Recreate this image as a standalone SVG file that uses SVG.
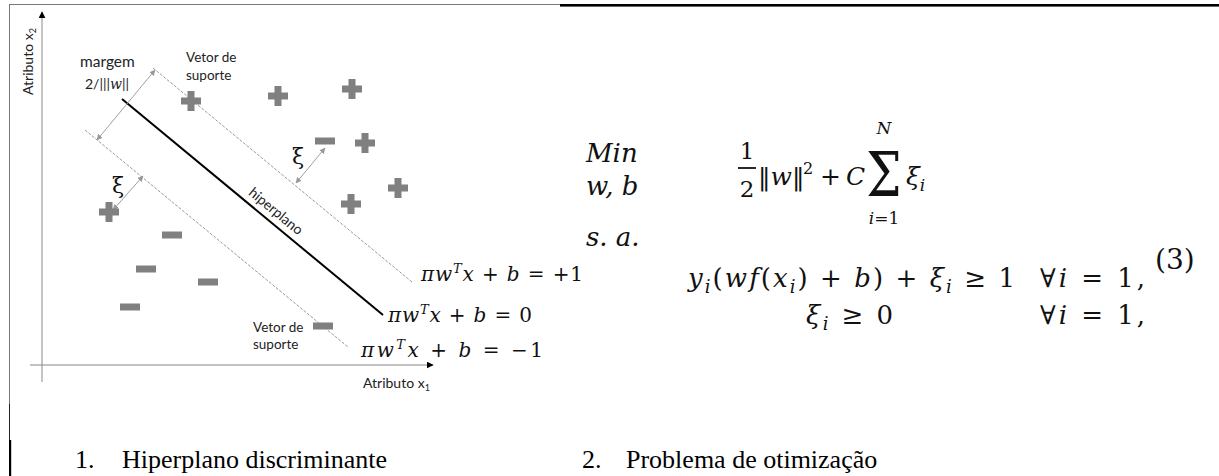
<svg xmlns="http://www.w3.org/2000/svg" xmlns:xlink="http://www.w3.org/1999/xlink" width="1219" height="476" viewBox="0 0 1219 476">
<style>
.lbl{font-family:Lato,"Open Sans",sans-serif;fill:#222}
.m{font-family:"DejaVu Serif",serif;font-style:italic;fill:#111}
.mu{font-family:"DejaVu Serif",serif;fill:#111}
.cap{font-family:"Liberation Serif","Times New Roman",serif;font-size:26px;fill:#000}
.pt{fill:#808080}
.mar{stroke:#9a9a9a;stroke-width:1;stroke-dasharray:3 1.5;fill:none}
.dbl{stroke:#a0a0a0;stroke-width:1;fill:none;marker-start:url(#ga);marker-end:url(#ga)}
</style>
<defs>
<marker id="ba" viewBox="0 0 10 10" refX="9" refY="5" markerWidth="7" markerHeight="7" markerUnits="userSpaceOnUse" orient="auto"><path d="M0,0 L10,5 L0,10 z" fill="#000"/></marker>
<marker id="ga" viewBox="0 0 10 10" refX="9" refY="5" markerWidth="6" markerHeight="6" markerUnits="userSpaceOnUse" orient="auto-start-reverse"><path d="M0,0 L10,5 L0,10 z" fill="#999"/></marker>
<path id="plus" d="M-3.5,-10 h7 v6.5 h6.5 v7 h-6.5 v6.5 h-7 v-6.5 h-6.5 v-7 h6.5 z" class="pt"/>
<rect id="minus" x="-10" y="-3.5" width="20" height="7" class="pt"/>
</defs>
<rect width="1219" height="476" fill="#fff"/>
<g id="frame">
<line x1="9" y1="4.5" x2="560" y2="4.5" stroke="#777" stroke-width="1"/>
<rect x="560" y="4" width="659" height="2.6" fill="#000"/>
<line x1="9.5" y1="4.5" x2="9.5" y2="404" stroke="#777" stroke-width="1"/>
<line x1="9.5" y1="404" x2="9.5" y2="440" stroke="#222" stroke-width="1"/>
<rect x="9" y="440" width="2.2" height="36" fill="#000"/>
</g>
<g id="axes">
<line x1="42" y1="382" x2="42" y2="12" stroke="#888" stroke-width="1" marker-end="url(#ba)"/>
<line x1="30" y1="365" x2="433" y2="365" stroke="#888" stroke-width="1" marker-end="url(#ba)"/>
<text class="lbl" font-size="14" transform="translate(33,95) rotate(-90)">Atributo x<tspan font-size="9" dy="3">2</tspan></text>
<text class="lbl" x="363" y="388" font-size="14">Atributo x<tspan font-size="9" dy="3">1</tspan></text>
</g>
<g id="connectors">
<line class="mar" x1="153" y1="68" x2="412" y2="282"/>
<line class="mar" x1="85" y1="130" x2="348" y2="347"/>
<line x1="122" y1="99" x2="383" y2="315" stroke="#000" stroke-width="2"/>
<line class="dbl" x1="97" y1="140" x2="155" y2="70"/>
<line class="dbl" x1="113" y1="210" x2="143" y2="176"/>
<line class="dbl" x1="296" y1="183" x2="325" y2="148"/>
</g>
<g id="hyperplane-label">
<text class="lbl" font-size="14" text-anchor="middle" transform="translate(276,211) rotate(39.6)" y="5">hiperplano</text>
</g>
<g id="margin-label">
<text class="lbl" x="80" y="67" font-size="15.5">margem</text>
<text class="lbl" x="85" y="89" font-size="14">2/|||<tspan font-family="DejaVu Serif" font-style="italic" font-size="14">w</tspan>||</text>
</g>
<g id="xi-labels">
<text class="mu" x="112" y="193" font-size="22">ξ</text>
<text class="mu" x="292" y="164" font-size="22">ξ</text>
</g>
<g id="sv-top">
<text class="lbl" x="186" y="62" font-size="13.5">Vetor de</text>
<text class="lbl" x="186" y="80" font-size="13.5">suporte</text>
</g>
<g id="sv-bottom">
<text class="lbl" x="253" y="332" font-size="13.5">Vetor de</text>
<text class="lbl" x="253" y="349" font-size="13.5">suporte</text>
</g>
<g id="points-plus">
<use xlink:href="#plus" x="191" y="101"/>
<use xlink:href="#plus" x="278" y="96"/>
<use xlink:href="#plus" x="352" y="89"/>
<use xlink:href="#plus" x="365" y="143"/>
<use xlink:href="#plus" x="398" y="188"/>
<use xlink:href="#plus" x="351" y="204"/>
<use xlink:href="#plus" x="109" y="212"/>
</g>
<g id="points-minus">
<use xlink:href="#minus" x="325" y="141"/>
<use xlink:href="#minus" x="172" y="235"/>
<use xlink:href="#minus" x="146" y="269"/>
<use xlink:href="#minus" x="208" y="282"/>
<use xlink:href="#minus" x="130" y="307"/>
<use xlink:href="#minus" x="323" y="326"/>
</g>
<g id="plane-equations">
<text class="m" x="421" y="281" font-size="20" textLength="162" lengthAdjust="spacing">πw<tspan font-size="13" dy="-8">T</tspan><tspan dy="8">x</tspan><tspan font-style="normal"> + </tspan>b<tspan font-style="normal"> = +1</tspan></text>
<text class="m" x="388" y="322" font-size="20" textLength="144" lengthAdjust="spacing">πw<tspan font-size="13" dy="-8">T</tspan><tspan dy="8">x</tspan><tspan font-style="normal"> + </tspan>b<tspan font-style="normal"> = 0</tspan></text>
<text class="m" x="361" y="357" font-size="20" textLength="182" lengthAdjust="spacing">πw<tspan font-size="13" dy="-8">T</tspan><tspan dy="8">x</tspan><tspan font-style="normal"> + </tspan>b<tspan font-style="normal"> = −1</tspan></text>
</g>
<g id="objective">
<text class="m" x="586" y="162" font-size="26">Min</text>
<text class="m" x="586" y="195" font-size="26">w, b</text>
<text class="mu" x="747" y="159" font-size="23" text-anchor="middle">1</text>
<line x1="738" y1="168" x2="756" y2="168" stroke="#111" stroke-width="1.8"/>
<text class="mu" x="747" y="197" font-size="23" text-anchor="middle">2</text>
<text class="mu" x="758" y="185" font-size="25">‖<tspan class="m">w</tspan>‖</text>
<text class="mu" x="803" y="174" font-size="16">2</text>
<text class="mu" x="820" y="185" font-size="25">+</text>
<text class="m" x="846" y="185" font-size="25">C</text>
<text class="mu" x="884" y="196" font-size="48" text-anchor="middle" transform="translate(884,196) scale(1.04,1.3) translate(-884,-196)">Σ</text>
<text class="m" x="884" y="134" font-size="17" text-anchor="middle">N</text>
<text class="m" x="884" y="224" font-size="17" text-anchor="middle">i<tspan font-style="normal">=1</tspan></text>
<text class="m" x="906" y="185" font-size="25">ξ<tspan font-size="17" dy="6">i</tspan></text>
</g>
<g id="constraints">
<text class="m" x="586" y="246" font-size="26">s. a.</text>
<text class="mu" x="1155" y="269" font-size="28" font-family="Liberation Serif">(3)</text>
<text class="m" x="688" y="287" font-size="26" textLength="327" lengthAdjust="spacing">y<tspan font-size="18" dy="6">i</tspan><tspan dy="-6" font-style="normal">(</tspan>wf<tspan font-style="normal">(</tspan>x<tspan font-size="18" dy="6">i</tspan><tspan dy="-6" font-style="normal">) + </tspan>b<tspan font-style="normal">) + </tspan>ξ<tspan font-size="18" dy="6">i</tspan><tspan dy="-6" font-style="normal"> ≥ 1</tspan></text>
<text class="mu" x="1040" y="287" font-size="26" textLength="105" lengthAdjust="spacing">∀<tspan class="m">i</tspan> = 1,</text>
<text class="m" x="806" y="324" font-size="26" textLength="87" lengthAdjust="spacing">ξ<tspan font-size="18" dy="6">i</tspan><tspan dy="-6" font-style="normal"> ≥ 0</tspan></text>
<text class="mu" x="1040" y="324" font-size="26" textLength="105" lengthAdjust="spacing">∀<tspan class="m">i</tspan> = 1,</text>
</g>
<g id="captions">
<text class="cap" x="75" y="468">1.</text>
<text class="cap" x="122" y="468">Hiperplano discriminante</text>
<text class="cap" x="582" y="468">2.</text>
<text class="cap" x="626" y="468">Problema de otimização</text>
</g>
</svg>
